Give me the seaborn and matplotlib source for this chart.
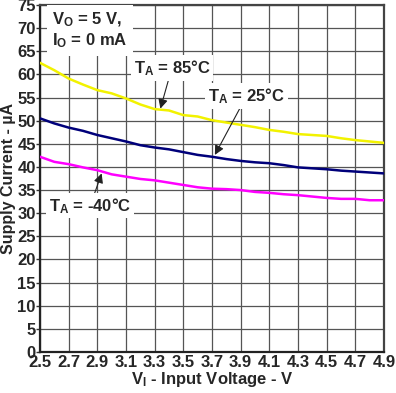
import numpy as np
import pandas as pd
import matplotlib
matplotlib.use("Agg")
import matplotlib.pyplot as plt
import seaborn as sns

vin = [2.5, 2.6, 2.7, 2.8, 2.9, 3.0, 3.1, 3.2, 3.3, 3.4, 3.5, 3.6, 3.7,
       3.8, 3.9, 4.0, 4.1, 4.2, 4.3, 4.4, 4.5, 4.6, 4.7, 4.8, 4.9]
i_85 = [62.5, 60.9, 59.1, 57.8, 56.6, 55.9, 54.8, 53.5, 52.5, 52.2, 51.2, 50.9, 50.1,
        49.6, 49.1, 48.6, 48.0, 47.6, 47.1, 46.9, 46.7, 46.2, 45.8, 45.5, 45.2]
i_25 = [50.5, 49.4, 48.5, 47.8, 46.9, 46.2, 45.5, 44.7, 44.2, 43.8, 43.2, 42.6, 42.2,
        41.7, 41.3, 41.0, 40.8, 40.4, 39.9, 39.7, 39.5, 39.2, 39.0, 38.8, 38.6]
i_m40 = [42.2, 41.1, 40.6, 39.9, 39.3, 38.4, 37.9, 37.4, 37.1, 36.6, 36.1, 35.6, 35.3,
         35.2, 35.0, 34.6, 34.4, 34.1, 33.9, 33.6, 33.3, 33.1, 33.1, 32.8, 32.8]
series_names = ["85°C", "25°C", "-40°C"]
x_ticks = [2.5, 2.7, 2.9, 3.1, 3.3, 3.5, 3.7, 3.9, 4.1, 4.3, 4.5, 4.7, 4.9]
y_ticks = [0, 5, 10, 15, 20, 25, 30, 35, 40, 45, 50, 55, 60, 65, 70, 75]

df = pd.DataFrame({
    "V": vin * 3,
    "I": i_85 + i_25 + i_m40,
    "T": [series_names[0]] * len(vin) + [series_names[1]] * len(vin) + [series_names[2]] * len(vin),
})

sns.set_theme(style="white")
plt.rcParams["font.family"] = ["Liberation Sans", "DejaVu Sans"]
plt.rcParams["font.weight"] = "bold"
plt.rcParams["mathtext.fontset"] = "custom"
plt.rcParams["mathtext.rm"] = "Liberation Sans:bold"
plt.rcParams["mathtext.it"] = "Liberation Sans:bold"
plt.rcParams["mathtext.bf"] = "Liberation Sans:bold"
plt.rcParams["mathtext.default"] = "rm"

fig = plt.figure(figsize=(3.96, 3.93), dpi=100)
ax = fig.add_axes([40 / 396, 41 / 393, 344 / 396, 347 / 393])

palette = {"85°C": "#F2F200", "25°C": "#00007A", "-40°C": "#FF00FF"}
sns.lineplot(data=df, x="V", y="I", hue="T", palette=palette, linewidth=1.8,
             legend=False, ax=ax, zorder=3)

ax.set_xlim(2.5, 4.9)
ax.set_ylim(0, 75)
ax.set_xticks(x_ticks)
ax.set_yticks(y_ticks)
ax.set_xticklabels([f"{t:.1f}" for t in x_ticks], fontsize=12, fontweight="bold")
ax.set_yticklabels([str(t) for t in y_ticks], fontsize=12, fontweight="bold")
ax.tick_params(axis="x", length=0, pad=2)
ax.tick_params(axis="y", length=3, width=1, color="#333333", pad=0, direction="out", left=True)
ax.grid(True, color="#555555", linewidth=0.9, zorder=0)
ax.set_axisbelow(True)
for s in ax.spines.values():
    s.set_color("#444444")
    s.set_linewidth(1.6)
ax.spines["left"].set_color("#222222")
ax.spines["bottom"].set_color("#222222")

ax.set_xlabel(r"V$_\mathregular{I}$ - Input Voltage - V", fontsize=12, fontweight="bold", labelpad=0)
ax.set_ylabel("Supply Current - µA", fontsize=11.5, fontweight="bold", labelpad=1)

box = dict(facecolor="white", edgecolor="none", pad=2)
ax.text(0.035, 0.985, "V$_\\mathregular{O}$ = 5 V,\nI$_\\mathregular{O}$ = 0 mA", transform=ax.transAxes,
        ha="left", va="top", fontsize=12, fontweight="bold", linespacing=1.2,
        bbox=dict(facecolor="white", edgecolor="none", pad=4), zorder=5)

arrow = dict(arrowstyle="-|>", color="#222222", lw=0.8, mutation_scale=14, shrinkA=0, shrinkB=0)
ax.annotate("T$_\\mathregular{A}$ = 85°C", xy=(3.34, 52.6), xytext=(3.42, 61.4),
            ha="center", va="center", fontsize=12, fontweight="bold",
            bbox=box, arrowprops=arrow, zorder=5)
ax.annotate("T$_\\mathregular{A}$ = 25°C", xy=(3.72, 42.6), xytext=(3.94, 55.3),
            ha="center", va="center", fontsize=12, fontweight="bold",
            bbox=box, arrowprops=arrow, zorder=5)
ax.annotate("T$_\\mathregular{A}$ = -40°C", xy=(2.93, 38.6), xytext=(2.85, 31.6),
            ha="center", va="center", fontsize=12, fontweight="bold",
            bbox=box, arrowprops=arrow, zorder=5)

fig.savefig("out.png", dpi=100)
